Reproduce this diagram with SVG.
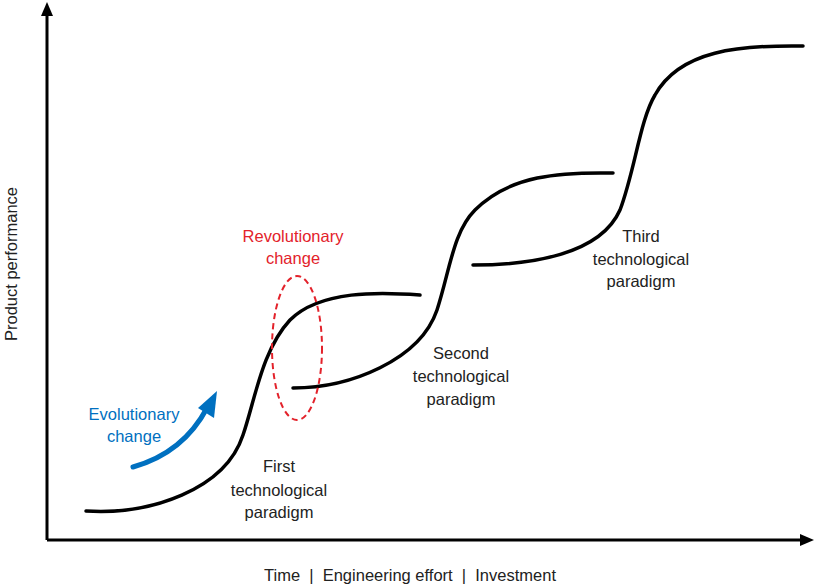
<svg xmlns="http://www.w3.org/2000/svg" width="815" height="585" viewBox="0 0 815 585">
<style>
text{font-family:"Liberation Sans",Arial,sans-serif;font-size:16.5px;text-anchor:middle;fill:#222}
text.b{fill:#0070c0}
text.r{fill:#e3222b}
.c{fill:none;stroke:#000;stroke-width:3.5;stroke-linecap:round}
</style>
<rect width="815" height="585" fill="#fff"/>
<g id="axes">
<path d="M47,540 V14 M47,540 H804" stroke="#000" stroke-width="3" fill="none"/>
<polygon points="47,2 41,16 53,16" fill="#000"/>
<polygon points="814,540 800,534 800,546" fill="#000"/>
<text x="410" y="581" font-size="18.5" xml:space="preserve">Time  |  Engineering effort  |  Investment</text>
<text transform="translate(17,264) rotate(-90)" font-size="17">Product performance</text>
</g>
<g id="connectors">
<path class="c" d="M86,511 C150,515 225,490 243,435 C255,400 262,350 290,320 C320,290 380,292 420,295"/>
<path class="c" d="M293,388 C350,388 420,360 437,310 C450,270 453,232 475,210 C510,175 560,172 613,173"/>
<path class="c" d="M473,265 C530,265 600,255 620,210 C635,170 640,120 655,95 C680,50 740,45 803,46"/>
<ellipse cx="297" cy="348" rx="25" ry="72" fill="none" stroke="#e3222b" stroke-width="2" stroke-dasharray="6,4"/>
<path d="M133,467 C165,458 190,440 207,408" fill="none" stroke="#0070c0" stroke-width="5" stroke-linecap="round"/>
<polygon points="217,391 214,418 198,408" fill="#0070c0"/>
</g>
<g id="first"><text x="279" y="472">First</text><text x="279" y="496">technological</text><text x="279" y="518">paradigm</text></g>
<g id="second"><text x="461" y="359">Second</text><text x="461" y="382">technological</text><text x="461" y="405">paradigm</text></g>
<g id="third"><text x="641" y="242">Third</text><text x="641" y="265">technological</text><text x="641" y="287">paradigm</text></g>
<g id="evo"><text class="b" x="134" y="420">Evolutionary</text><text class="b" x="134" y="442">change</text></g>
<g id="rev"><text class="r" x="293" y="242">Revolutionary</text><text class="r" x="293" y="264">change</text></g>
</svg>
